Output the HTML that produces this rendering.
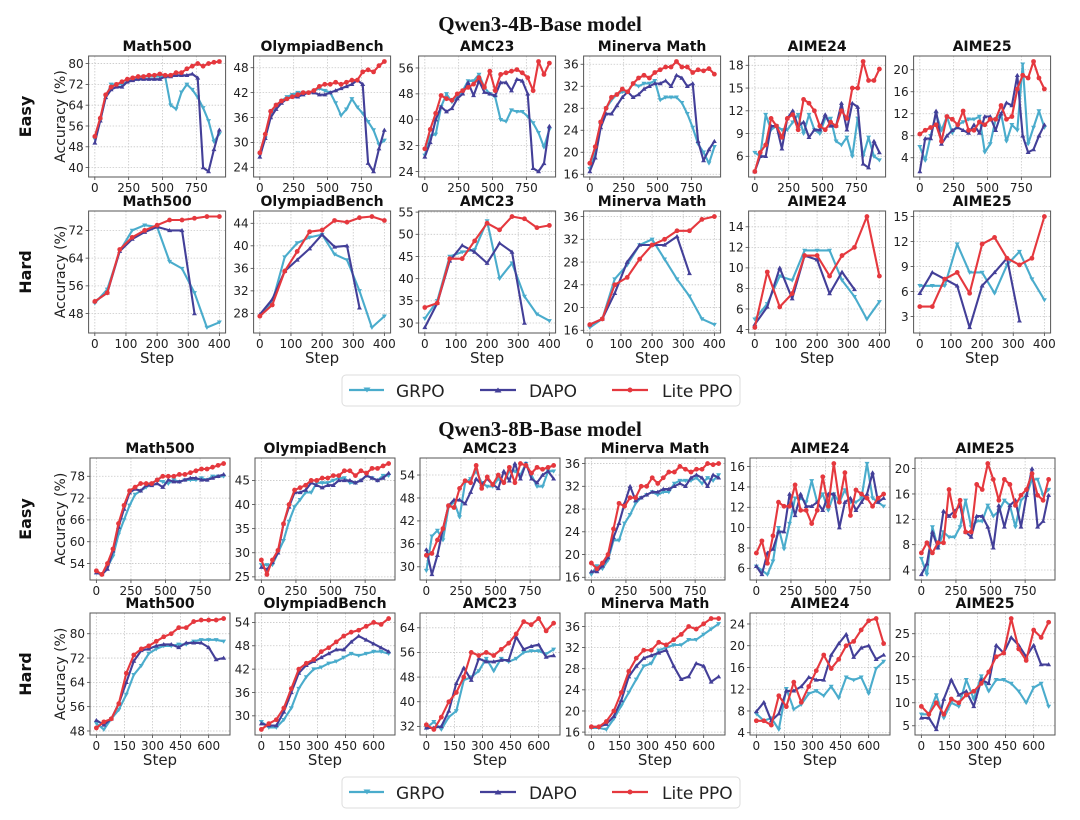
<!DOCTYPE html>
<html><head><meta charset="utf-8"><style>
html,body{margin:0;padding:0;background:#fff;}
svg{display:block;font-family:"DejaVu Sans","Liberation Sans",sans-serif;}
</style></head><body>
<svg id="fig" width="1080" height="820" viewBox="0 0 1080 820" xmlns="http://www.w3.org/2000/svg">
<text x="540" y="31" text-anchor="middle" font-family="Liberation Serif,serif" font-weight="bold" font-size="21" fill="#111">Qwen3-4B-Base model</text>
<text x="540" y="436" text-anchor="middle" font-family="Liberation Serif,serif" font-weight="bold" font-size="21" fill="#111">Qwen3-8B-Base model</text>
<g id="plots"></g>
<g>
<rect x="342" y="375" width="398" height="31" rx="4" fill="#fff" stroke="#ddd"/>
<line x1="349" y1="390" x2="384" y2="390" stroke="#4aaccc" stroke-width="2.2"/><path d="M363.5,387.5 L370.5,387.5 L367,392.5Z" fill="#4aaccc"/>
<text x="396" y="397" font-size="17" fill="#222">GRPO</text>
<line x1="480" y1="390" x2="516" y2="390" stroke="#433f98" stroke-width="2.2"/><path d="M494.5,392.5 L501.5,392.5 L498,387.5Z" fill="#433f98"/>
<text x="529" y="397" font-size="17" fill="#222">DAPO</text>
<line x1="612" y1="390" x2="648" y2="390" stroke="#e5383e" stroke-width="2.2"/><circle cx="630" cy="390" r="2.5" fill="#e5383e"/>
<text x="662" y="397" font-size="17" fill="#222">Lite PPO</text>
</g>
<g>
<rect x="342" y="777" width="398" height="31" rx="4" fill="#fff" stroke="#ddd"/>
<line x1="349" y1="792" x2="384" y2="792" stroke="#4aaccc" stroke-width="2.2"/><path d="M363.5,789.5 L370.5,789.5 L367,794.5Z" fill="#4aaccc"/>
<text x="396" y="799" font-size="17" fill="#222">GRPO</text>
<line x1="480" y1="792" x2="516" y2="792" stroke="#433f98" stroke-width="2.2"/><path d="M494.5,794.5 L501.5,794.5 L498,789.5Z" fill="#433f98"/>
<text x="529" y="799" font-size="17" fill="#222">DAPO</text>
<line x1="612" y1="792" x2="648" y2="792" stroke="#e5383e" stroke-width="2.2"/><circle cx="630" cy="792" r="2.5" fill="#e5383e"/>
<text x="662" y="799" font-size="17" fill="#222">Lite PPO</text>
</g>
</svg>
<script>
// ---------- step categories ----------
const stepsE = [0,40,80,120,160,200,240,280,320,360,400,440,480,520,560,600,640,680,720,760,800,840,880,920];
const stepsH4 = [0,40,80,120,160,200,240,280,320,360,400];
const stepsH4d = [0,40,80,120,160,200,240,280,320];
const stepsH8 = [0,40,80,120,160,200,240,280,320,360,400,440,480,520,560,600,640,680];
const xTicksE = [0,250,500,750];
const xTicksH4 = [0,100,200,300,400];
const xTicksH8 = [0,150,300,450,600];
const titles = ["Math500","OlympiadBench","AMC23","Minerva Math","AIME24","AIME25"];

// ---------- Qwen3-4B Easy ----------
const a_m500_lite=[52,59,68,71,72,73,74,74.5,75,75,75.5,75.5,76,75.5,75.5,76.5,76.5,78,79,80,79,80,80.5,80.8];
const a_m500_grpo=[51,58,67,72,72,72,73,74,74,75,75,75,75,75,64,62.5,69,72,70,67,63,58,50,53];
const a_m500_dapo=[49.5,58,67,70,71,71,73,73.5,74,74,74,74,74,75,75,75.5,75.5,75.5,76,74.5,40,38.5,47,54.5];
const a_m500_ticks=[40,48,56,64,72,80];
const a_oly_lite=[27.5,32,37.5,39,40,40.5,41,41.5,42,42,42.5,43.5,44,44,44.5,44,44.5,45,45,47,47.5,47,48.5,49.5];
const a_oly_grpo=[27,31,37,39,40,41,41.5,42,42,42,42.5,43,42.5,42,39.5,36.5,38,40.5,38.5,37,35,33,29.5,30.5];
const a_oly_dapo=[26.5,31,36,38,39.5,40.5,41,41,41.5,42,42,41.5,41.5,42,42.5,43,43.5,44,45,44,25,23,28.5,33];
const a_oly_ticks=[24,30,36,42,48];
const a_amc_lite=[31,37,42,47.5,46.5,46,48,49,50,51,53,50,55,49,54,54.5,55,55.5,54.5,53,49,58,54,57.5];
const a_amc_grpo=[29,35,35.5,44,48,45.5,47,49,52,52,54,50,48,47,40,39.5,43,42.5,42.5,41,39,36,31.5,37];
const a_amc_dapo=[28.5,33,40,44,42.5,43.5,46.5,48,51.5,47.5,52,48.5,48,47.5,51.5,51.5,49,52.5,52,48,25,24,26.5,38];
const a_amc_ticks=[24,32,40,48,56];
const a_min_lite=[18,21,25.5,28,30,30.5,31.5,31,32.5,33.5,34,33.5,34.5,35,35.5,35.5,36.5,35.5,35.5,34.5,35,34.8,35.2,34.2];
const a_min_grpo=[17,20,25,28,29.5,30.5,31,31,32.5,32,32.5,32.5,33,29.5,30,30,30,29,27,24.5,21.5,20,18,21];
const a_min_dapo=[16.5,19,24.5,27,27,28.5,30,31,30,30.5,31.5,32,32.5,32.5,33,32,34,33.5,32,32.5,22,18.5,20.5,22];
const a_min_ticks=[16,20,24,28,32,36];
const a_a24_lite=[4,6.5,7.5,11,10,8.5,11,11.5,9.5,13.5,13,12,10,9.5,10.5,10,12,11,15,15,18.5,16,16,17.5];
const a_a24_grpo=[6.5,6,11.5,9.5,10,9.5,9.5,10.5,11.5,9,11.5,9.5,9,11,11,8,7.5,8.5,6,11,6,8.5,6,5.5];
const a_a24_dapo=[4,6,6,10,10,7,11,12,10,10.5,8.5,9.5,9.5,11.5,10,10,13,9.5,13,12.5,5,4.5,8,6.5];
const a_a24_ticks=[6,9,12,15,18];
const a_a25_lite=[8.3,9,9.5,10,7,11.5,11,10,12.5,9,9,10.5,10,11,11,13.5,11,11.5,16.5,19,18.5,21.5,18.5,16.5];
const a_a25_grpo=[6,3.5,8,12,9,11.5,8.5,10,10.5,11,11,11.5,5,6.5,11,12,7,10,9,21,6.5,9.5,12.5,9.5];
const a_a25_dapo=[1.5,7.5,7.5,12.5,6.5,8,9,9.5,9,8.5,10,8.5,11.5,11.5,9,12,14,13.5,19,8,5,5.5,8,10];
const a_a25_ticks=[4,8,12,16,20];

// ---------- Qwen3-4B Hard ----------
const b_m500_lite=[51.5,54,66.5,70,72,73.5,75,75,75.5,76,76];
const b_m500_grpo=[51,55,66,72,73.5,73,63,61,54,44,45.5];
const b_m500_dapo=[51.5,54,66,69.5,71.5,73,72,72,48];
const b_m500_ticks=[48,56,64,72];
const b_oly_lite=[27.5,29.5,35.5,39,42.5,42.8,44.5,44.2,45,45.2,44.5];
const b_oly_grpo=[27.5,30,38,40.5,41.5,42,38.5,37.5,32,25.5,27.5];
const b_oly_dapo=[27.8,30.5,35.5,37.5,39.5,42,39.8,40,29];
const b_oly_ticks=[28,32,36,40,44];
const b_amc_lite=[33.5,34.5,44.5,44.5,48.5,52.5,51,54,53.5,51.5,52];
const b_amc_grpo=[31,35,45,46,46.5,53,40,43.5,36,32,30.5];
const b_amc_dapo=[29,34.5,44,47.5,46,43.5,48,46,30];
const b_amc_ticks=[30,35,40,45,50,55];
const b_min_lite=[17,18,24,25.3,28.5,31,32,33.5,33.5,35.5,36];
const b_min_grpo=[16.5,18,25,27.5,31,32,28.5,25,22,18,17];
const b_min_dapo=[17,18,22.5,28,31,31,31,32.5,26];
const b_min_ticks=[16,20,24,28,32,36];
const b_a24_lite=[4.2,9.6,6.2,7.5,11.2,11.2,9.2,11.2,12,15,9.2];
const b_a24_grpo=[5,6.5,9.2,8.8,11.7,11.7,11.7,8.8,7.2,5,6.7];
const b_a24_dapo=[4.5,6.2,10,7,11.2,10.8,7.5,9.6,7.9];
const b_a24_ticks=[4,6,8,10,12,14];
const b_a25_lite=[4.2,4.2,7.5,8.3,5.8,11.7,12.5,10,9.2,10,15];
const b_a25_grpo=[6.7,6.7,6.7,11.7,8.3,8.3,5.8,9.2,10.8,7.5,5];
const b_a25_dapo=[5.8,8.3,7.5,6.7,1.7,6.7,8.3,10,2.5];
const b_a25_ticks=[3,6,9,12,15];

// ---------- Qwen3-8B Easy ----------
const c_m500_lite=[52,51,54,58,65,70,74,75,76,76,76,77,78,78,78,78.5,78.5,79,79.5,80,80,80.5,81,81.5];
const c_m500_grpo=[51.5,51,53,56,62,66,70,73,74,75,76,77,76.5,76,77,76.5,77,77,77,77.5,77,78,78,78];
const c_m500_dapo=[51.5,51,52.5,57.5,64,69,73.5,74.5,74,75.5,75.5,76,75,77,76.5,76.5,77,77.5,77.5,77,77,77.5,78,78.5];
const c_m500_ticks=[54,60,66,72,78];
const c_oly_lite=[28.5,25.5,28.5,30.5,36,40,43,43.5,44,45,45,45.5,45.5,46,46,47,47,46,47,46.5,47.5,47.5,48,48.5];
const c_oly_grpo=[27.5,27.5,27.5,30,32.5,36.5,39.5,41,42.5,42.5,44.5,44.5,44.5,45,45.5,45.5,44.5,44.5,45,46,45.5,45,46,46];
const c_oly_dapo=[27,26.5,28,30,36,39.5,42.5,42.5,43,44.5,44,43.5,44,44,45,45,45,44.5,45,46,45.5,45,45.5,46.5];
const c_oly_ticks=[25,30,35,40,45];
const c_amc_lite=[33,33.5,37,40,46,45.5,50.5,52.5,52,56.5,50.5,53.5,51.5,54,52,56,52,57,56.5,54.5,56,55.5,56,56.5];
const c_amc_grpo=[29,38,39.5,37,45.5,47,43,52,53,55,52,51,51,53,52,55,55,54,57,54,51,51,55,55];
const c_amc_dapo=[34.5,28,33,40,46,47.5,47.5,46.5,49.5,53,51.5,53,51.5,50.5,55,52.5,57,53,57,53,52,54,55,53];
const c_amc_ticks=[30,36,42,48,54];
const c_min_lite=[18.5,17.5,18.5,20,24.5,29,28.5,30,30,32,32,33.5,32.5,33.5,34.5,34.5,35.5,35,34.5,35,35,36,35.8,36];
const c_min_grpo=[16.5,18,17.5,19,22.5,22.5,25.5,27,29,30,30.5,31,30.5,31,31,32.5,33,33,33,33.5,32.5,33.5,33,34];
const c_min_dapo=[17,17,18,19.5,23,25.5,29,32,29.5,30,30.5,31,31,31.5,31.5,32,32.5,32,33.5,34,33.5,32,34,33.5];
const c_min_ticks=[16,20,24,28,32,36];
const c_a24_lite=[7.5,8.7,6.5,9.2,12.5,12.1,12.1,14.2,11.7,11.7,10.4,11.7,15,12.1,16.3,12.5,15.4,11.2,13.7,13.3,12.9,12.1,12.9,13.3];
const c_a24_grpo=[6.2,5.8,5.4,6.7,10,7.9,10.4,12.9,12.9,12.5,14.6,12.5,13.3,11.7,13.3,12.5,13.7,12.5,12.5,12.9,16.3,12.9,12.5,12.1];
const c_a24_dapo=[6.2,5.4,7.5,7.9,9.6,9.6,13.3,11.2,13.3,12.1,12.1,12.5,11.7,13.3,13.3,10,12.5,12.9,11.7,12.5,13.3,15.4,12.5,12.9];
const c_a24_ticks=[6,8,10,12,14,16];
const c_a25_lite=[6.7,8.3,6.7,8.3,8.3,16.7,12.5,15,10,10,17.5,16.7,20.8,18.3,15,18.3,17.5,14.2,15.8,16.7,19.2,15.8,15,18.3];
const c_a25_grpo=[5.8,3.3,10.8,7.5,10,9.2,9.2,10.8,15,10.8,11.7,11.7,14.2,12.5,13.3,15,14.2,10.8,15,15.8,18.3,18.3,15.8,16.7];
const c_a25_dapo=[3.3,5,10,7.5,13.3,12.5,13.3,14.2,10,9.2,12.5,12.5,10.8,7.5,14.2,10.8,14.2,15,10.8,15.8,20,10.8,11.7,15.8];
const c_a25_ticks=[4,8,12,16,20];

// ---------- Qwen3-8B Hard ----------
const d_m500_lite=[49,51,52,57,67,73,75,76,77.5,79,80,82,82,84,84.5,84.5,84.5,85];
const d_m500_grpo=[50.5,48.5,52,55,60,66.5,69.5,73.5,75,76,76,76.5,76.5,77.5,78,78,78,77.5];
const d_m500_dapo=[51.5,50,52,57,64,71,74.5,75,76,76.5,76.5,75.5,77,77,77,75.5,71.5,72];
const d_m500_ticks=[48,56,64,72,80];
const d_oly_lite=[26.5,28,29,32,37,42,43.5,44.5,46.5,47.5,49,50.5,51.5,52,53,54,53.5,55];
const d_oly_grpo=[28.5,27,27,29,32,37,40,42,42.5,43.5,44,45,46,45.5,46,46.5,46.5,46];
const d_oly_dapo=[28,27.5,27.5,31,36,41,43,44,45,46,47,47,49,50.5,49.5,48.5,47.5,46.5];
const d_oly_ticks=[30,36,42,48,54];
const d_amc_lite=[32.5,31,35,40,43,48,56,55,56,55,57,59,62,66,65,67,63,65.5];
const d_amc_grpo=[31.5,33.5,31,35,37,47,48,50,54,50,54,53,54,56,56.5,56.5,55.5,57];
const d_amc_dapo=[31.5,31.5,32,37,46,51,47,54,53,53,53.5,53.5,61,57,58,58.5,54.5,55];
const d_amc_ticks=[32,40,48,56,64];
const d_min_lite=[17,17,18,20,23.5,27.5,30,31.5,31.5,33,32.5,33.5,34.5,36,35.5,36.5,37.5,37.5];
const d_min_grpo=[16.8,16.8,16.5,18.5,21,23.5,26,28.5,29,31.5,32,32.5,32.5,33.5,33.5,34.5,35.5,36.5];
const d_min_dapo=[17,17,17.5,19,22,26.5,28.5,30,30.5,31,31.5,28.5,26,26.5,29,28.5,25.5,26.5];
const d_min_ticks=[16,20,24,28,32,36];
const d_a24_lite=[6.2,6.2,5.4,10.8,8.8,13.3,9.6,12.5,15.4,18.3,15.8,17.5,20,20.8,22.9,24.6,25,20.4];
const d_a24_grpo=[7.5,6.2,6.7,4.6,12.1,8.3,9.2,11.2,11.7,10.8,12.5,10.4,14.2,13.7,14.2,11.2,15.8,17.1];
const d_a24_dapo=[7.9,9.6,6.2,7.5,11.7,11.7,12.5,14.2,13.7,13.7,18.3,20.4,22.1,17.9,19.6,20,17.5,18.3];
const d_a24_ticks=[4,8,12,16,20,24];
const d_a25_lite=[9.2,7.5,10,7.5,10.8,10,11.7,12.5,14.2,16.7,20,20.8,28.3,21.7,19.2,25.8,24.2,27.5];
const d_a25_grpo=[7.5,7.5,11.7,6.7,10,9.2,15,10.8,15.8,12.5,15,15,14.2,12.5,10,13.3,14.2,9.2];
const d_a25_dapo=[6.7,6.7,4.2,10.8,15,11.7,12.5,9.2,15,14.2,22.5,20.8,24.2,22.5,20,22.5,18.3,18.3];
const d_a25_ticks=[5,10,15,20,25];

const rowsCfg = [
 {key:"4b-easy",row:"Easy",x0:88.6,w:137,y0:56,y1:177,steps:stepsE,dsteps:stepsE,xt:xTicksE,step:false,
  p:[[a_m500_grpo,a_m500_dapo,a_m500_lite,a_m500_ticks],[a_oly_grpo,a_oly_dapo,a_oly_lite,a_oly_ticks],[a_amc_grpo,a_amc_dapo,a_amc_lite,a_amc_ticks],[a_min_grpo,a_min_dapo,a_min_lite,a_min_ticks],[a_a24_grpo,a_a24_dapo,a_a24_lite,a_a24_ticks],[a_a25_grpo,a_a25_dapo,a_a25_lite,a_a25_ticks]]},
 {key:"4b-hard",row:"Hard",x0:88.6,w:137,y0:211,y1:333,steps:stepsH4,dsteps:stepsH4d,xt:xTicksH4,step:true,
  p:[[b_m500_grpo,b_m500_dapo,b_m500_lite,b_m500_ticks],[b_oly_grpo,b_oly_dapo,b_oly_lite,b_oly_ticks],[b_amc_grpo,b_amc_dapo,b_amc_lite,b_amc_ticks],[b_min_grpo,b_min_dapo,b_min_lite,b_min_ticks],[b_a24_grpo,b_a24_dapo,b_a24_lite,b_a24_ticks],[b_a25_grpo,b_a25_dapo,b_a25_lite,b_a25_ticks]]},
 {key:"8b-easy",row:"Easy",x0:90,w:140,y0:458,y1:580,steps:stepsE,dsteps:stepsE,xt:xTicksE,step:false,
  p:[[c_m500_grpo,c_m500_dapo,c_m500_lite,c_m500_ticks],[c_oly_grpo,c_oly_dapo,c_oly_lite,c_oly_ticks],[c_amc_grpo,c_amc_dapo,c_amc_lite,c_amc_ticks],[c_min_grpo,c_min_dapo,c_min_lite,c_min_ticks],[c_a24_grpo,c_a24_dapo,c_a24_lite,c_a24_ticks],[c_a25_grpo,c_a25_dapo,c_a25_lite,c_a25_ticks]]},
 {key:"8b-hard",row:"Hard",x0:90,w:140,y0:613,y1:735,steps:stepsH8,dsteps:stepsH8,xt:xTicksH8,step:true,
  p:[[d_m500_grpo,d_m500_dapo,d_m500_lite,d_m500_ticks],[d_oly_grpo,d_oly_dapo,d_oly_lite,d_oly_ticks],[d_amc_grpo,d_amc_dapo,d_amc_lite,d_amc_ticks],[d_min_grpo,d_min_dapo,d_min_lite,d_min_ticks],[d_a24_grpo,d_a24_dapo,d_a24_lite,d_a24_ticks],[d_a25_grpo,d_a25_dapo,d_a25_lite,d_a25_ticks]]}
];
const COLORS = {grpo:"#4aaccc",dapo:"#433f98",lite:"#e5383e"};
const NS="http://www.w3.org/2000/svg";
const root=document.getElementById("plots");
function mk(tag,attrs,parent){const e=document.createElementNS(NS,tag);for(const k in attrs)e.setAttribute(k,attrs[k]);(parent||root).appendChild(e);return e;}

rowsCfg.forEach(function(R){
  const midY=(R.y0+R.y1)/2;
  const rl=mk("text",{x:0,y:0,"text-anchor":"middle","font-weight":"bold","font-size":"16",fill:"#111",transform:"translate(31,"+midY+") rotate(-90)"});
  
  
  rl.textContent=R.row;
  const al=mk("text",{x:0,y:0,"text-anchor":"middle","font-size":"14",fill:"#222",transform:"translate(65,"+midY+") rotate(-90)"});
  
  
  al.textContent="Accuracy (%)";
  R.p.forEach(function(P,ci){
    const x0=R.x0+165*ci, x1=x0+R.w;
    const g=mk("g",{});
    
    
    const smin=R.steps[0], smax=R.steps[R.steps.length-1], sp=smax-smin;
    const xd0=smin-0.05*sp, xd1=smax+0.05*sp;
    const all=P[0].concat(P[1],P[2]);
    const vmin=Math.min.apply(null,all), vmax=Math.max.apply(null,all), vr=vmax-vmin;
    const yd0=vmin-0.05*vr, yd1=vmax+0.05*vr;
    const X=v=>x0+(v-xd0)/(xd1-xd0)*(x1-x0);
    const Y=v=>R.y1-(v-yd0)/(yd1-yd0)*(R.y1-R.y0);
    mk("rect",{x:x0,y:R.y0,width:R.w,height:R.y1-R.y0,fill:"#fff"},g);
    R.xt.forEach(function(t){const xx=X(t);
      mk("line",{x1:xx,x2:xx,y1:R.y0,y2:R.y1,stroke:"#c8c8c8","stroke-width":"0.8","stroke-dasharray":"1.5,1.5"},g);
      mk("line",{x1:xx,x2:xx,y1:R.y1,y2:R.y1+3,stroke:"#444","stroke-width":"0.8"},g);
      const tl=mk("text",{x:xx,y:R.y1+15,"text-anchor":"middle","font-size":"12",fill:"#222"},g);
      
      
      tl.textContent=t;});
    P[3].forEach(function(t){const yy=Y(t);
      mk("line",{x1:x0,x2:x1,y1:yy,y2:yy,stroke:"#c8c8c8","stroke-width":"0.8","stroke-dasharray":"1.5,1.5"},g);
      mk("line",{x1:x0-3,x2:x0,y1:yy,y2:yy,stroke:"#444","stroke-width":"0.8"},g);
      const tl=mk("text",{x:x0-5,y:yy+4.3,"text-anchor":"end","font-size":"12",fill:"#222"},g);
      
      
      tl.textContent=t;});
    const names=["grpo","dapo","lite"];
    [0,1,2].forEach(function(si){
      const vals=P[si], st=(si===1)?R.dsteps:R.steps, col=COLORS[names[si]];
      const pts=vals.map((v,i)=>X(st[i]).toFixed(1)+","+Y(v).toFixed(1)).join(" ");
      const pl=mk("polyline",{points:pts,fill:"none",stroke:col,"stroke-width":"2.1","stroke-linejoin":"round"},g);
      
      
      vals.forEach(function(v,i){const cx=X(st[i]),cy=Y(v);let m;
        if(si===0) m=mk("path",{d:"M"+(cx-2.5)+","+(cy-1.7)+" L"+(cx+2.5)+","+(cy-1.7)+" L"+cx+","+(cy+2.4)+"Z",fill:col},g);
        else if(si===1) m=mk("path",{d:"M"+(cx-2.5)+","+(cy+1.7)+" L"+(cx+2.5)+","+(cy+1.7)+" L"+cx+","+(cy-2.4)+"Z",fill:col},g);
        else m=mk("circle",{cx:cx,cy:cy,r:2.4,fill:col},g);
        
        });
    });
    mk("rect",{x:x0,y:R.y0,width:R.w,height:R.y1-R.y0,fill:"none",stroke:"#555","stroke-width":"1"},g);
    const tt=mk("text",{x:(x0+x1)/2,y:R.y0-5,"text-anchor":"middle","font-weight":"bold","font-size":"14",fill:"#111"},g);
    
    
    tt.textContent=titles[ci];
    if(R.step){const sl=mk("text",{x:(x0+x1)/2,y:R.y1+30,"text-anchor":"middle","font-size":"15",fill:"#222"},g);
      
      
      sl.textContent="Step";}
  });
});
</script>
</body></html>
